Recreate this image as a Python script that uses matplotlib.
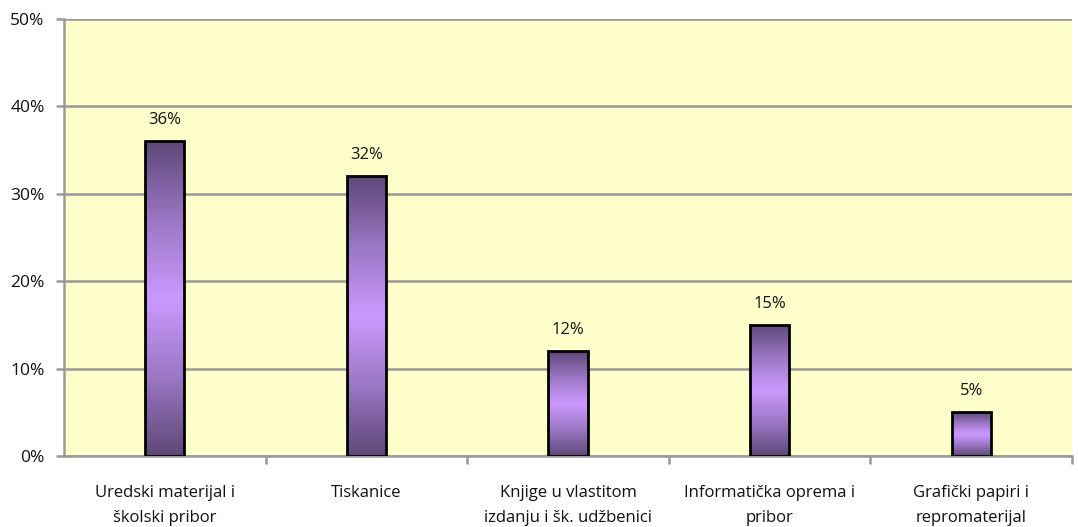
import matplotlib
matplotlib.use("Agg")
import matplotlib.pyplot as plt
import numpy as np
from matplotlib.colors import LinearSegmentedColormap

categories = ["Uredski materijal i\nškolski pribor", "Tiskanice",
              "Knjige u vlastitom\nizdanju i šk. udžbenici",
              "Informatička oprema i\npribor", "Grafički papiri i\nrepromaterijal"]
values = [36, 32, 12, 15, 5]
yticks = [0, 10, 20, 30, 40, 50]
ytick_labels = ["0%", "10%", "20%", "30%", "40%", "50%"]

plt.rcParams['font.family'] = ['Open Sans', 'DejaVu Sans']

fig = plt.figure(figsize=(10.78, 5.27), dpi=100)
ax = fig.add_axes([0.0594, 0.1347, 0.935, 0.8293])
ax.set_facecolor('#FFFFCC')
ax.set_xlim(-0.5, len(categories) - 0.5)
ax.set_ylim(0, 50)
ax.set_yticks(yticks)
ax.set_yticklabels(ytick_labels, fontsize=12.5, color='#111111')
ax.grid(axis='y', color='#999999', lw=1.8, zorder=0)
ax.set_axisbelow(True)
for s in ['top', 'right']:
    ax.spines[s].set_visible(False)
ax.spines['left'].set_color('#999999')
ax.spines['left'].set_linewidth(1.8)
ax.spines['bottom'].set_color('#999999')
ax.spines['bottom'].set_linewidth(1.8)
ax.tick_params(axis='y', length=6, color='#999999', width=1.8, pad=8)

x = np.arange(len(categories))
ax.set_xticks(x)
ax.set_xticklabels(categories, fontsize=12, linespacing=1.75, color='#111111')
ax.tick_params(axis='x', length=0, pad=21)
ax.set_xticks(np.arange(0.5, len(categories) - 0.5 + 1e-9, 1.0), minor=True)
ax.tick_params(axis='x', which='minor', length=6, color='#999999', width=1.8)

cmap = LinearSegmentedColormap.from_list('g', ['#5E4878', '#9B77C4', '#CC99FF', '#9B77C4', '#5E4878'])
grad = np.linspace(0, 1, 256).reshape(-1, 1)
w = 0.195
bars = ax.bar(x, values, width=w, facecolor='none', edgecolor='black', lw=2, zorder=4)
for b, v in zip(bars, values):
    x0 = b.get_x()
    im = ax.imshow(grad, cmap=cmap, aspect='auto', extent=[x0, x0 + w, 0, v],
                   origin='lower', zorder=3, interpolation='bilinear')
    im.set_clip_path(b)
    ax.text(b.get_x() + w / 2, v + 1.5, f"{v}%", ha='center', va='bottom', fontsize=12,
            color='#111111')
ax.set_xlim(-0.5, len(categories) - 0.5)
ax.set_ylim(0, 50)

fig.savefig('out.png', dpi=100)
